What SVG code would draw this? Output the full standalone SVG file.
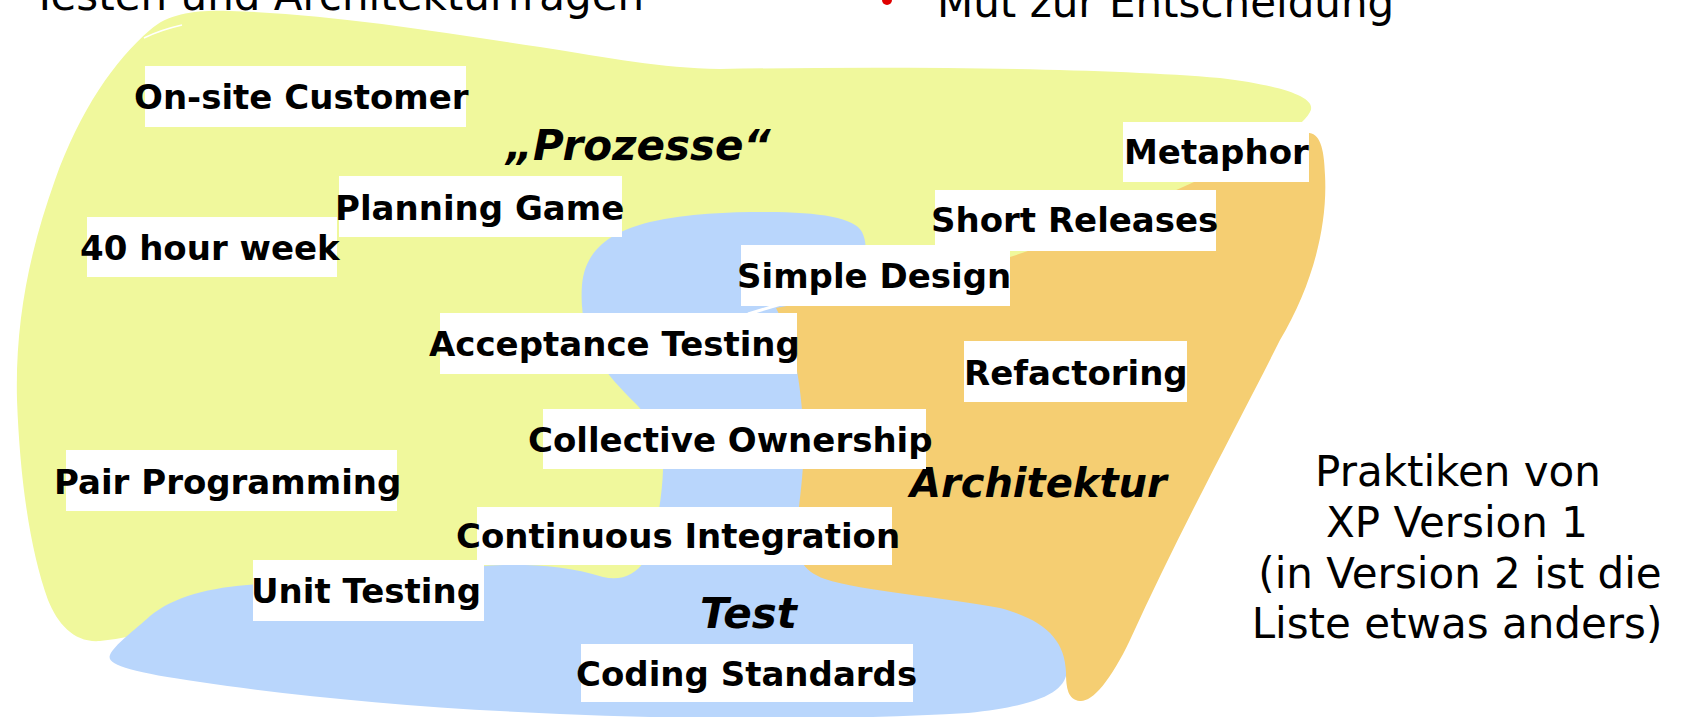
<svg xmlns="http://www.w3.org/2000/svg" width="1681" height="717" viewBox="0 0 1681 717">
  <style>
    .box { fill: #ffffff; }
    .lbl { font-family: "DejaVu Sans", "Verdana", sans-serif; font-weight: bold; font-size: 34px; fill: #000; }
    .area { font-family: "DejaVu Sans", "Verdana", sans-serif; font-weight: bold; font-style: italic; fill: #000; }
    .plain { font-family: "DejaVu Sans", "Verdana", sans-serif; font-size: 42px; fill: #000; }
    .yellow { fill: #F0F89C; }
    .blue { fill: #B9D6FC; }
    .orange { fill: #F5CE72; }
  </style>

  <rect width="1681" height="717" fill="#ffffff"/>

  <!-- slide text running off the top edge -->
  <g id="header">
    <text class="plain" x="32" y="10">Testen und Architekturfragen</text>
    <circle cx="887" cy="0" r="5" fill="#E00000"/>
    <text class="plain" x="937" y="17">Mut zur Entscheidung</text>
  </g>

  <!-- three overlapping practice areas -->
  <g id="area-prozesse">
    <path class="yellow" d="M150,30 C170,12 200,10 230,11 C330,14 440,32 540,47 C610,58 660,68 720,69 C900,66 1100,68 1220,78 C1285,86 1318,98 1310,112 C1305,122 1290,132 1270,145 L1150,250 L900,320 L820,560 L620,600 L300,610 C200,615 150,636 100,641 C75,643 58,625 48,600 C30,550 20,480 17,400 C15,320 30,250 55,180 C80,110 115,60 150,30 Z"/>
    <path d="M144,38 Q160,30 182,25" fill="none" stroke="#ffffff" stroke-width="1.5"/>
  </g>

  <g id="area-test">
    <path class="blue" d="M767,212 C820,212 855,218 862,232 C868,244 868,262 850,285 L805,330 L820,560 L1000,598 C1050,615 1068,640 1067,670 C1066,690 1045,705 968,713 C850,720 700,720 560,714 C420,708 300,697 200,682 C130,672 106,665 110,655 C114,645 135,630 150,616 C175,596 210,587 260,584 L484,566 C520,563 565,565 603,577 C620,581 635,576 645,560 C655,540 662,500 663,470 C664,440 650,418 635,403 C620,388 607,374 600,362 C585,340 580,310 582,285 C585,250 610,232 650,222 C690,213 730,212 767,212 Z"/>
  </g>

  <g id="area-architektur">
    <path class="orange" d="M776,308 C870,290 950,275 1010,257 C1080,235 1150,202 1194,182 C1240,162 1280,140 1300,134 C1318,128 1324,142 1325,175 C1328,230 1310,290 1280,340 C1240,420 1180,530 1130,640 C1110,682 1092,702 1080,701 C1068,700 1066,688 1066,672 C1065,640 1045,620 1000,608 C950,598 860,591 825,579 C797,569 795,550 797,525 C800,495 806,460 803,420 C800,385 796,345 776,308 Z"/>
    <path d="M748,314 L781,304" fill="none" stroke="#ffffff" stroke-width="3"/>
  </g>

  <!-- area titles -->
  <text id="title-prozesse" class="area" x="506" y="160" font-size="42">„Prozesse“</text>
  <text id="title-architektur" class="area" x="910" y="497" font-size="40">Architektur</text>
  <text id="title-test" class="area" x="700" y="628" font-size="42">Test</text>

  <!-- practices -->
  <g id="onsite-customer">
    <rect class="box" x="145" y="66" width="321" height="61"/>
    <text class="lbl" x="134" y="109">On-site Customer</text>
  </g>
  <g id="planning-game">
    <rect class="box" x="339" y="176" width="283" height="61"/>
    <text class="lbl" x="335" y="220">Planning Game</text>
  </g>
  <g id="forty-hour-week">
    <rect class="box" x="87" y="217" width="250" height="60"/>
    <text class="lbl" x="80" y="260">40 hour week</text>
  </g>
  <g id="metaphor">
    <rect class="box" x="1123" y="122" width="186" height="60"/>
    <text class="lbl" x="1124" y="164">Metaphor</text>
  </g>
  <g id="short-releases">
    <rect class="box" x="935" y="190" width="281" height="61"/>
    <text class="lbl" x="931" y="232">Short Releases</text>
  </g>
  <g id="simple-design">
    <rect class="box" x="741" y="245" width="269" height="61"/>
    <text class="lbl" x="737" y="288">Simple Design</text>
  </g>
  <g id="acceptance-testing">
    <rect class="box" x="440" y="313" width="357" height="61"/>
    <text class="lbl" x="429" y="356">Acceptance Testing</text>
  </g>
  <g id="refactoring">
    <rect class="box" x="964" y="341" width="223" height="61"/>
    <text class="lbl" x="964" y="385">Refactoring</text>
  </g>
  <g id="collective-ownership">
    <rect class="box" x="543" y="409" width="383" height="60"/>
    <text class="lbl" x="528" y="452">Collective Ownership</text>
  </g>
  <g id="pair-programming">
    <rect class="box" x="66" y="450" width="331" height="61"/>
    <text class="lbl" x="54" y="494">Pair Programming</text>
  </g>
  <g id="continuous-integration">
    <rect class="box" x="477" y="507" width="415" height="58"/>
    <text class="lbl" x="456" y="548">Continuous Integration</text>
  </g>
  <g id="unit-testing">
    <rect class="box" x="253" y="560" width="231" height="61"/>
    <text class="lbl" x="251" y="603">Unit Testing</text>
  </g>
  <g id="coding-standards">
    <rect class="box" x="581" y="644" width="332" height="58"/>
    <text class="lbl" x="576" y="686">Coding Standards</text>
  </g>

  <!-- caption -->
  <g id="caption">
    <text class="plain" text-anchor="middle" x="1458" y="486">Praktiken von</text>
    <text class="plain" text-anchor="middle" x="1457" y="537">XP Version 1</text>
    <text class="plain" text-anchor="middle" x="1460" y="588">(in Version 2 ist die</text>
    <text class="plain" text-anchor="middle" x="1457" y="638">Liste etwas anders)</text>
  </g>
</svg>
